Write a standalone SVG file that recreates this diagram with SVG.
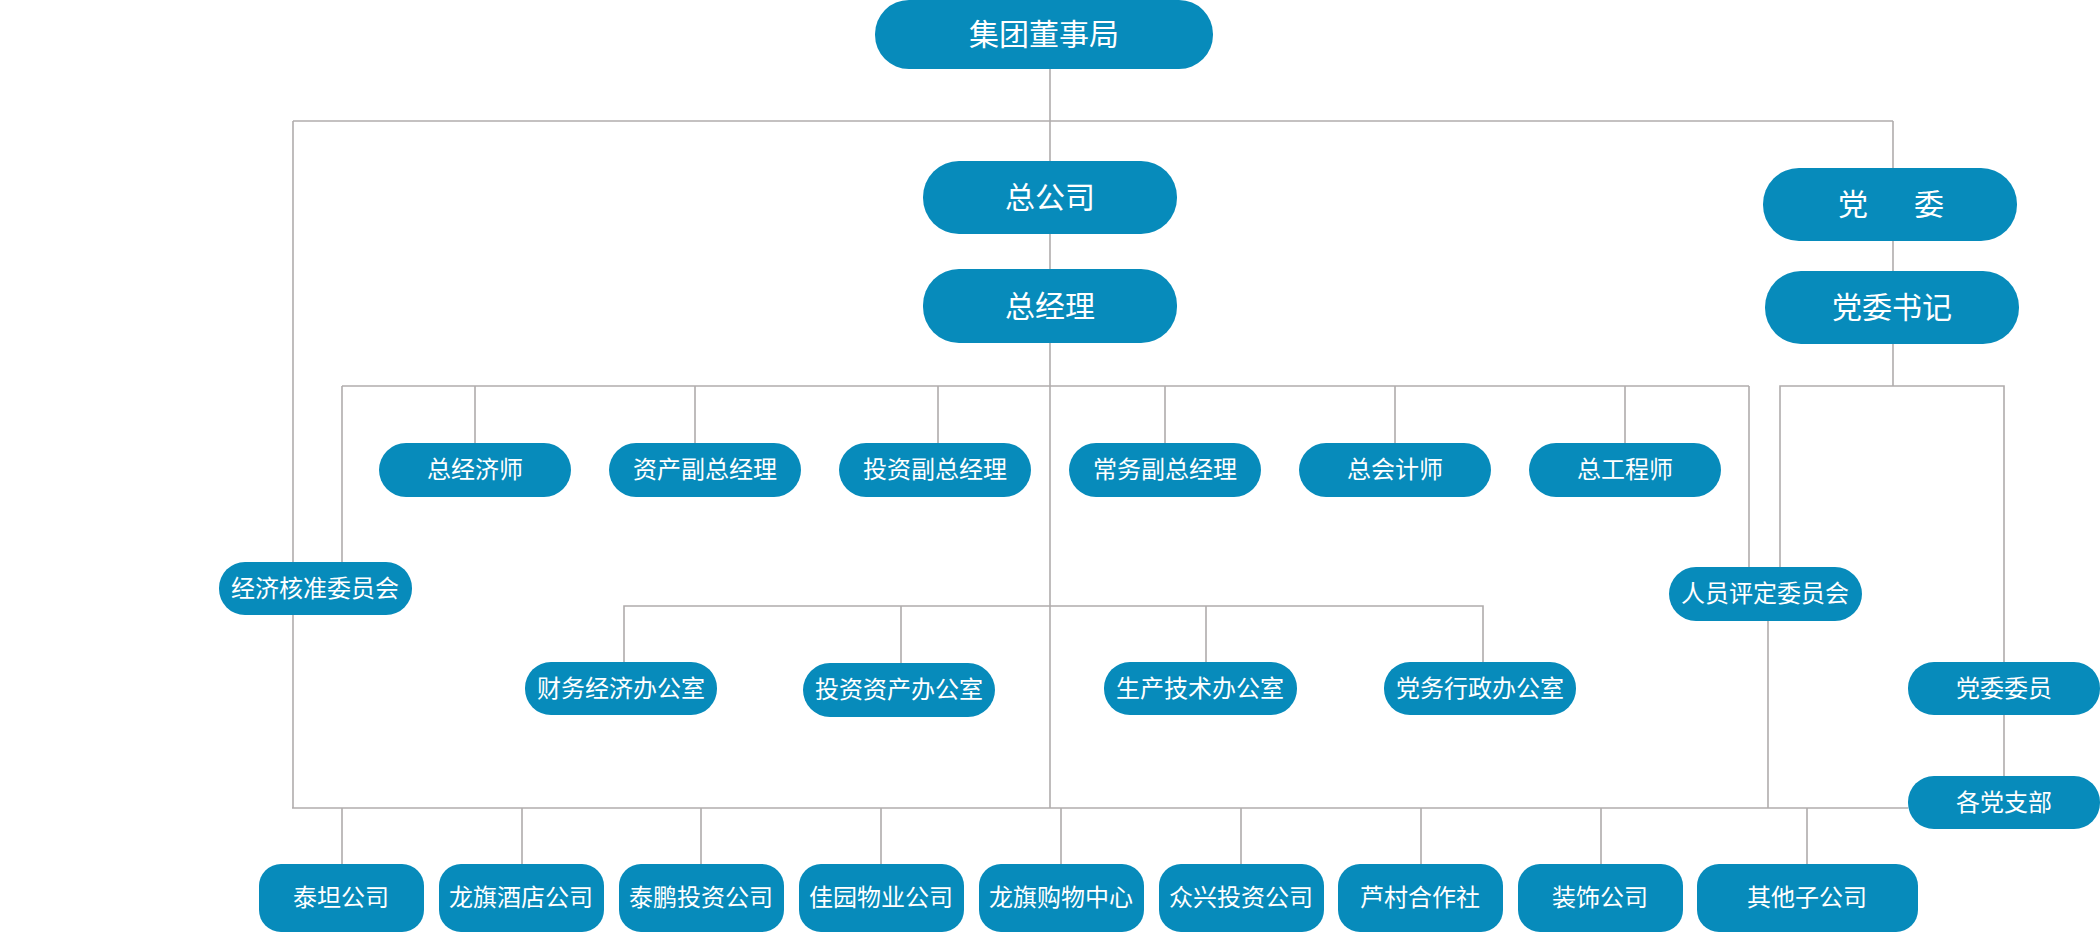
<svg xmlns="http://www.w3.org/2000/svg" width="2100" height="934" viewBox="0 0 2100 934">
<style>
.n rect{fill:#078bbb;}
.n text{fill:#ffffff;font-family:"Noto Sans CJK SC","Liberation Sans",sans-serif;font-size:24px;text-anchor:middle;}
.n text.big{font-size:30px;}
#connectors path{fill:none;stroke:#b0acac;stroke-width:1.6;}
</style>
<rect width="2100" height="934" fill="#ffffff"/>
<g id="connectors">
<path d="M1050 69V808"/>
<path d="M293 121H1893"/>
<path d="M293 121V808"/>
<path d="M1893 121V386"/>
<path d="M342 386H1749"/>
<path d="M475 386V443M695 386V443M938 386V443M1165 386V443M1395 386V443M1625 386V443"/>
<path d="M342 386V562"/>
<path d="M1749 386V567"/>
<path d="M1780 567V386H2004V662"/>
<path d="M2004 715V776"/>
<path d="M624 662V606H1483V662"/>
<path d="M901 606V663M1206 606V662"/>
<path d="M1768 621V808"/>
<path d="M292 808H1908"/>
<path d="M342 808V864M522 808V864M701 808V864M881 808V864M1061 808V864M1241 808V864M1421 808V864M1601 808V864M1807 808V864"/>
</g>
<g id="n-board" class="n"><rect x="875" y="0" width="338" height="69" rx="34"/><text class="big" x="1044" y="45">集团董事局</text></g>
<g id="n-hq" class="n"><rect x="923" y="161" width="254" height="73" rx="36"/><text class="big" x="1050" y="208">总公司</text></g>
<g id="n-gm" class="n"><rect x="923" y="269" width="254" height="74" rx="36"/><text class="big" x="1050" y="317">总经理</text></g>
<g id="n-party" class="n"><rect x="1763" y="168" width="254" height="73" rx="36"/><text class="big" x="1895" y="215" letter-spacing="8">党　委</text></g>
<g id="n-secretary" class="n"><rect x="1765" y="271" width="254" height="73" rx="36"/><text class="big" x="1892" y="318">党委书记</text></g>
<g id="n-economist" class="n"><rect x="379" y="443" width="192" height="54" rx="27"/><text x="475" y="478">总经济师</text></g>
<g id="n-asset-vp" class="n"><rect x="609" y="443" width="192" height="54" rx="27"/><text x="705" y="478">资产副总经理</text></g>
<g id="n-invest-vp" class="n"><rect x="839" y="443" width="192" height="54" rx="27"/><text x="935" y="478">投资副总经理</text></g>
<g id="n-exec-vp" class="n"><rect x="1069" y="443" width="192" height="54" rx="27"/><text x="1165" y="478">常务副总经理</text></g>
<g id="n-accountant" class="n"><rect x="1299" y="443" width="192" height="54" rx="27"/><text x="1395" y="478">总会计师</text></g>
<g id="n-engineer" class="n"><rect x="1529" y="443" width="192" height="54" rx="27"/><text x="1625" y="478">总工程师</text></g>
<g id="n-econ-committee" class="n"><rect x="219" y="562" width="193" height="53" rx="26"/><text x="315" y="597">经济核准委员会</text></g>
<g id="n-hr-committee" class="n"><rect x="1669" y="567" width="193" height="54" rx="27"/><text x="1765" y="602">人员评定委员会</text></g>
<g id="n-finance-office" class="n"><rect x="525" y="662" width="192" height="53" rx="26"/><text x="621" y="697">财务经济办公室</text></g>
<g id="n-invest-office" class="n"><rect x="803" y="663" width="192" height="54" rx="27"/><text x="899" y="698">投资资产办公室</text></g>
<g id="n-prod-office" class="n"><rect x="1104" y="662" width="193" height="53" rx="26"/><text x="1200" y="697">生产技术办公室</text></g>
<g id="n-admin-office" class="n"><rect x="1384" y="662" width="192" height="53" rx="26"/><text x="1480" y="697">党务行政办公室</text></g>
<g id="n-party-members" class="n"><rect x="1908" y="662" width="192" height="53" rx="26"/><text x="2004" y="697">党委委员</text></g>
<g id="n-branches" class="n"><rect x="1908" y="776" width="192" height="53" rx="26"/><text x="2004" y="811">各党支部</text></g>
<g id="n-taitan" class="n"><rect x="259" y="864" width="165" height="68" rx="22"/><text x="341" y="906">泰坦公司</text></g>
<g id="n-hotel" class="n"><rect x="439" y="864" width="165" height="68" rx="22"/><text x="521" y="906">龙旗酒店公司</text></g>
<g id="n-taipeng" class="n"><rect x="619" y="864" width="165" height="68" rx="22"/><text x="701" y="906">泰鹏投资公司</text></g>
<g id="n-jiayuan" class="n"><rect x="799" y="864" width="165" height="68" rx="22"/><text x="881" y="906">佳园物业公司</text></g>
<g id="n-mall" class="n"><rect x="979" y="864" width="165" height="68" rx="22"/><text x="1061" y="906">龙旗购物中心</text></g>
<g id="n-zhongxing" class="n"><rect x="1159" y="864" width="165" height="68" rx="22"/><text x="1241" y="906">众兴投资公司</text></g>
<g id="n-lucun" class="n"><rect x="1338" y="864" width="165" height="68" rx="22"/><text x="1420" y="906">芦村合作社</text></g>
<g id="n-decor" class="n"><rect x="1518" y="864" width="165" height="68" rx="22"/><text x="1600" y="906">装饰公司</text></g>
<g id="n-others" class="n"><rect x="1697" y="864" width="221" height="68" rx="22"/><text x="1807" y="906">其他子公司</text></g>
</svg>
